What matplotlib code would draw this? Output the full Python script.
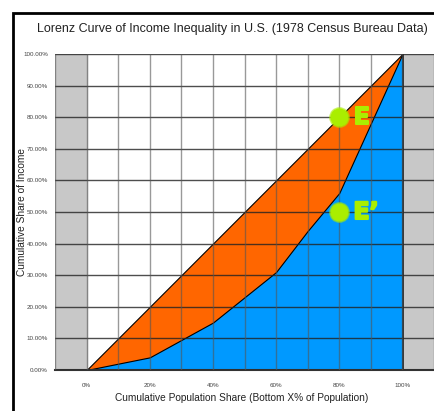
import matplotlib.pyplot as plt
import matplotlib.patheffects as pe
from matplotlib.patches import Rectangle

plt.rcParams['font.family'] = ['Liberation Sans', 'DejaVu Sans']

pop_share = [0, 10, 20, 30, 40, 50, 60, 70, 80, 90, 100]
equality = [0, 10, 20, 30, 40, 50, 60, 70, 80, 90, 100]
income_share = [0, 2, 4, 9.5, 15, 23, 31, 44, 56, 78, 100]
points = [(80, 80, "E"), (80, 50, "E\u2019")]
x_ticks = [0, 20, 40, 60, 80, 100]
y_ticks = [0, 10, 20, 30, 40, 50, 60, 70, 80, 90, 100]

fig = plt.figure(figsize=(4.34, 4.11), dpi=100)
ax = fig.add_axes([55 / 434, 41 / 411, 1 - 55 / 434, 316 / 411])

# gray side bands
ax.axvspan(-10, 0, color="#c8c8c8", zorder=0)
ax.axvspan(100, 110, color="#c8c8c8", zorder=0)

ax.fill_between(pop_share, 0, equality, color="#ff6600", edgecolor="black", lw=0.8, zorder=1)
ax.fill_between(pop_share, 0, income_share, color="#0099ff", edgecolor="black", lw=0.8, zorder=2)

for y in y_ticks:
    ax.axhline(y, color="#222222", lw=1.0, alpha=0.8, zorder=3)
for x in range(-10, 111, 10):
    ax.axvline(x, color="#555555", lw=1.0, alpha=0.6, zorder=3)

lime = "#aaee00"
for x, y, lab in points:
    ax.plot(x, y, "o", ms=14, color=lime, mec=lime, alpha=0.5, zorder=5)
    ax.plot(x, y, "o", ms=12, color=lime, mec=lime, zorder=5)
    ax.text(x + 4.5, y, lab, color=lime, fontsize=17, fontweight="bold",
            family="DejaVu Sans", va="center", ha="left", zorder=5,
            path_effects=[pe.withStroke(linewidth=1.5, foreground=lime)])

ax.set_xlim(-10, 110)
ax.set_ylim(0, 100)
ax.set_xticks(x_ticks)
ax.set_xticklabels([f"{v}%" for v in x_ticks])
ax.set_yticks(y_ticks)
ax.set_yticklabels([f"{v:.2f}%" for v in y_ticks])
ax.tick_params(axis="x", labelsize=4.5, labelcolor="#444444", length=0, pad=9)
ax.tick_params(axis="y", labelsize=4.5, labelcolor="#444444", length=0, pad=5)
for s in ["top", "right", "left"]:
    ax.spines[s].set_visible(False)
ax.spines["bottom"].set_linewidth(1.5)
ax.spines["bottom"].set_color("#333333")

fig.text(232 / 434, 1 - 29 / 411, "Lorenz Curve of Income Inequality in U.S. (1978 Census Bureau Data)",
         ha="center", va="center", fontsize=9, color="#222222")
fig.text(242 / 434, 1 - 398 / 411, "Cumulative Population Share (Bottom X% of Population)",
         ha="center", va="center", fontsize=7.3, color="#222222")
fig.text(22 / 434, 1 - 212 / 411, "Cumulative Share of Income", rotation=90,
         ha="center", va="center", fontsize=7.3, color="#222222")

fig.patches.append(Rectangle((13 / 434, -0.1), 1.2, 1.1 - 13 / 411, transform=fig.transFigure,
                             fill=False, edgecolor="black", lw=2))

fig.savefig("out.png", dpi=100)
